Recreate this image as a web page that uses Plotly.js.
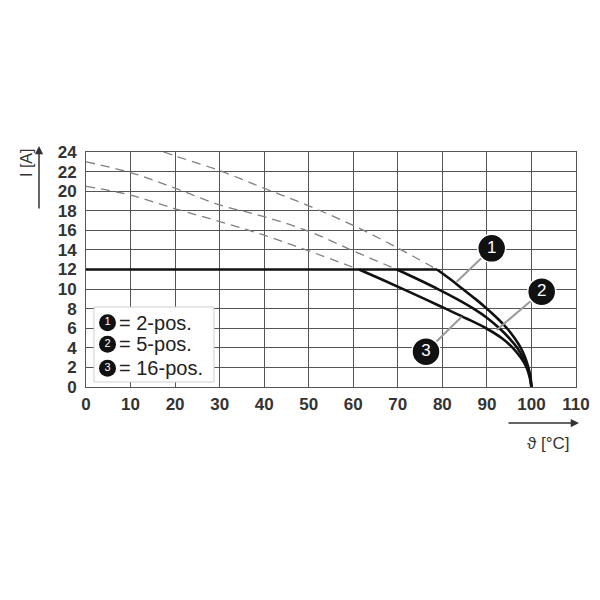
<!DOCTYPE html>
<html>
<head>
<meta charset="utf-8">
<script src="https://cdn.plot.ly/plotly-3.0.1.min.js"></script>
<style>html,body{margin:0;padding:0;background:#fff;}#chart{width:600px;height:600px;}</style>
</head>
<body>
<div id="chart"></div>
<script>
// ---- data ----
// dashed extensions (above 12 A)
const dash1T = [17.4, 20, 30, 40, 50, 60, 70, 78.8];
const dash1I = [24, 23.6, 22.1, 20.3, 18.5, 16.5, 14.2, 12];
const dash2T = [0, 10, 20, 30, 40, 50, 60, 69.8];
const dash2I = [23.0, 21.9, 20.3, 18.6, 17.4, 15.9, 13.9, 12];
const dash3T = [0, 10, 20, 30, 40, 50, 61.3];
const dash3I = [20.5, 19.6, 18.2, 16.9, 15.5, 13.9, 12];
// solid derating curves (temperature read where each curve crosses I)
const curveI = [12, 11, 10, 9, 8, 7, 6, 5, 4, 3, 2, 1, 0];
const curve1T = [78.8, 81.8, 84.6, 87.4, 90.0, 92.4, 94.5, 96.2, 97.6, 98.6, 99.3, 99.8, 100];
const curve2T = [69.8, 74.5, 79.0, 83.2, 87.0, 90.2, 92.8, 95.0, 96.8, 98.1, 99.1, 99.7, 100];
const curve3T = [61.3, 66.3, 71.2, 76.0, 80.7, 85.4, 89.8, 93.3, 95.8, 97.6, 98.9, 99.6, 100];
const plateauT = [0, 78.8];
const plateauI = [12, 12];
// labels
const curveNumbers = ['1', '2', '3'];
const legendTexts = ['= 2-pos.', '= 5-pos.', '= 16-pos.'];
const xTicks = [0, 10, 20, 30, 40, 50, 60, 70, 80, 90, 100, 110];
const yTicks = [0, 2, 4, 6, 8, 10, 12, 14, 16, 18, 20, 22, 24];

// ---- geometry helpers (pixel -> data / paper) ----
const L = 86, R = 576, T = 152, B = 387;
const X = px => (px - L) / (R - L) * 110;
const Y = py => (B - py) / (B - T) * 24;
const PX = px => (px - L) / (R - L);
const PY = py => (B - py) / (B - T);

const dashStyle = {color: '#808080', width: 1.3, dash: '9px,6px', shape: 'spline', smoothing: 1};
const solidStyle = {color: '#111', width: 2.6, shape: 'spline', smoothing: 1};

const traces = [
  {x: dash1T, y: dash1I, mode: 'lines', line: dashStyle},
  {x: dash2T, y: dash2I, mode: 'lines', line: dashStyle},
  {x: dash3T, y: dash3I, mode: 'lines', line: dashStyle},
  {x: curve1T, y: curveI, mode: 'lines', line: solidStyle},
  {x: curve2T, y: curveI, mode: 'lines', line: solidStyle},
  {x: curve3T, y: curveI, mode: 'lines', line: solidStyle},
  {x: plateauT, y: plateauI, mode: 'lines', line: {color: '#111', width: 2.6}},
];

// callout leader lines (circle centre -> curve)
const callouts = [
  {c: [491.7, 248.3], e: [456.7, 281.7]},
  {c: [541.7, 291.7], e: [496.7, 330]},
  {c: [426, 351.7], e: [461.7, 316.7]},
];
callouts.forEach(co => {
  traces.push({x: [X(co.c[0]), X(co.e[0])], y: [Y(co.c[1]), Y(co.e[1])], mode: 'lines',
    line: {color: '#9a9a9a', width: 2}, cliponaxis: false});
});
traces.push({
  x: callouts.map(co => X(co.c[0])), y: callouts.map(co => Y(co.c[1])),
  mode: 'markers+text', text: curveNumbers, textposition: 'middle center',
  textfont: {family: 'Liberation Sans, Arial', size: 17, color: '#fff'},
  marker: {size: 28, color: '#111', line: {color: '#fff', width: 1.5}}, cliponaxis: false
});
// legend circles
const legY = [322.7, 344.3, 368.3];
traces.push({
  x: legY.map(() => X(107.5)), y: legY.map(py => Y(py)),
  mode: 'markers+text', text: curveNumbers, textposition: 'middle center',
  textfont: {family: 'Liberation Sans, Arial', size: 11, color: '#fff'},
  marker: {size: 17, color: '#111'}, cliponaxis: false
});
traces.forEach(t => { t.hoverinfo = 'skip'; t.showlegend = false; });

const annotations = legendTexts.map((t, i) => ({
  xref: 'paper', yref: 'paper', x: PX(117), y: PY(legY[i]), xanchor: 'left', yanchor: 'middle',
  text: t, showarrow: false, font: {family: 'Liberation Sans, Arial', size: 20, color: '#222'}
}));
annotations.push(
  {xref: 'paper', yref: 'paper', x: PX(26), y: PY(163), xanchor: 'center', yanchor: 'middle',
   text: 'I [A]', textangle: -90,
   showarrow: false, font: {family: 'Liberation Sans, Arial', size: 16, color: '#333'}},
  {xref: 'paper', yref: 'paper', x: PX(39), y: PY(146), ax: 0, ay: 64,
   text: '', showarrow: true, arrowhead: 2, arrowsize: 1.1, arrowwidth: 1.5, arrowcolor: '#333'},
  {xref: 'paper', yref: 'paper', x: PX(579), y: PY(423), ax: -72, ay: 0,
   text: '', showarrow: true, arrowhead: 2, arrowsize: 1.1, arrowwidth: 1.5, arrowcolor: '#333'},
  {xref: 'paper', yref: 'paper', x: PX(548), y: PY(443), xanchor: 'center', yanchor: 'middle',
   text: 'ϑ [°C]',
   showarrow: false, font: {family: 'Liberation Sans, Arial', size: 17, color: '#333'}}
);

const axisFont = {family: 'Liberation Sans, Arial', size: 17, color: '#333', weight: 'bold'};
const layout = {
  width: 600, height: 600,
  margin: {l: L, r: 600 - R, t: T, b: 600 - B, pad: 0},
  paper_bgcolor: '#fff', plot_bgcolor: '#fff',
  xaxis: {range: [0, 110], tickvals: xTicks, ticktext: xTicks.map(String), showgrid: true,
    gridcolor: '#555', gridwidth: 1, zeroline: false, showline: true, mirror: true,
    linecolor: '#555', linewidth: 1, ticks: 'outside', ticklen: 2, tickcolor: 'rgba(0,0,0,0)',
    tickfont: axisFont, fixedrange: true},
  yaxis: {range: [0, 24], tickvals: yTicks, ticktext: yTicks.map(String), showgrid: true,
    gridcolor: '#555', gridwidth: 1, zeroline: false, showline: true, mirror: true,
    linecolor: '#555', linewidth: 1, ticks: 'outside', ticklen: 5, tickcolor: 'rgba(0,0,0,0)',
    tickfont: axisFont, fixedrange: true},
  shapes: [{type: 'rect', xref: 'x', yref: 'y', x0: X(94), x1: X(214), y0: Y(382), y1: Y(307),
    fillcolor: '#fff', line: {color: '#cfcfcf', width: 1}, layer: 'between'}],
  annotations: annotations
};
Plotly.newPlot('chart', traces, layout, {staticPlot: true, displayModeBar: false});
</script>
</body>
</html>
